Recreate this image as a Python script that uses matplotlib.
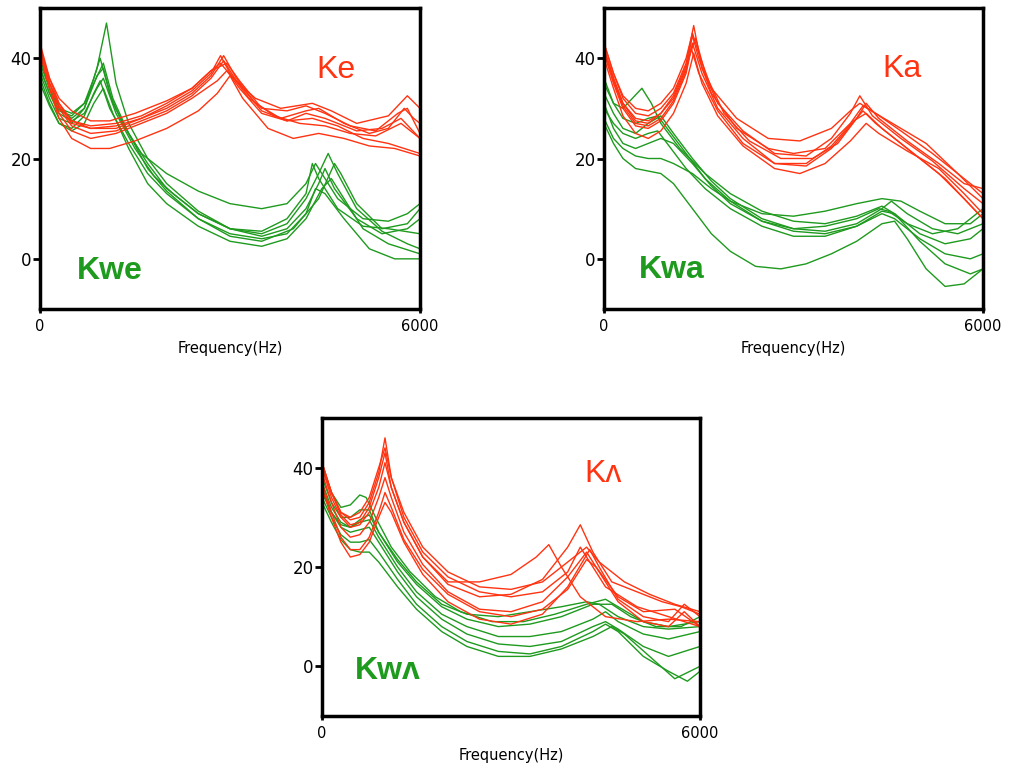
import matplotlib
matplotlib.use("Agg")
import matplotlib.pyplot as plt

# spectra: (frequency Hz, level dB) per token
KE = [
    [(0, 43), (150, 36), (300, 31), (500, 27.5), (800, 26), (1200, 26.5), (1600, 28), (2000, 30), (2400, 33), (2700, 36.5), (2900, 40.5), (3100, 36), (3400, 31), (3800, 28), (4200, 29.5), (4400, 30), (4800, 27), (5200, 25), (5500, 26), (5750, 30), (5900, 28), (6000, 27)],
    [(0, 41), (150, 34), (300, 28), (500, 24), (800, 22), (1100, 22), (1500, 23.5), (2000, 26), (2500, 29.5), (2800, 33), (3000, 36.5), (3200, 32), (3600, 26), (4000, 24), (4400, 25), (4800, 24), (5200, 22.5), (5600, 22), (6000, 20.5)],
    [(0, 42), (150, 35), (300, 30), (500, 26.5), (800, 25), (1200, 25.5), (1600, 27.5), (2000, 29.5), (2400, 32.5), (2700, 36), (2900, 39.5), (3100, 35.5), (3500, 29.5), (3900, 27.5), (4200, 29), (4500, 28), (5000, 25.5), (5400, 26), (5700, 28), (6000, 24)],
    [(0, 42), (150, 36), (300, 32), (500, 29.5), (800, 27.5), (1100, 27.5), (1500, 29), (2000, 31.5), (2400, 34), (2700, 37.5), (2850, 39), (3050, 36), (3400, 32), (3800, 30), (4300, 31), (4600, 29.5), (5000, 27), (5500, 28.5), (5800, 32.5), (6000, 30)],
    [(0, 41), (150, 34), (300, 29), (500, 25.5), (800, 24), (1200, 25), (1600, 27), (2000, 29), (2400, 32), (2800, 35.5), (2950, 37.5), (3150, 34), (3500, 29), (3900, 27.5), (4300, 28), (4700, 26.5), (5100, 24), (5500, 23), (6000, 21)],
    [(0, 42.5), (150, 35), (300, 30.5), (500, 27), (800, 26), (1200, 26), (1600, 28), (2000, 30.5), (2400, 33.5), (2700, 37), (2850, 40.5), (3000, 37), (3300, 32), (3700, 28.5), (4100, 27), (4500, 26.5), (4900, 25), (5300, 24.5), (5700, 27), (6000, 24)],
    [(0, 42), (150, 35), (300, 31), (500, 27.5), (800, 26.5), (1200, 27), (1600, 28.5), (2000, 31), (2400, 34), (2700, 37.5), (2950, 39), (3150, 35.5), (3500, 30), (3900, 29.5), (4200, 30.5), (4500, 29), (4900, 26.5), (5300, 25.5), (5650, 29), (5800, 30), (6000, 25)],
]
KWE = [
    [(0, 40), (150, 34), (300, 30), (500, 28), (700, 30), (900, 38), (1050, 47), (1200, 35), (1400, 27), (1700, 20), (2000, 15), (2500, 9.5), (3000, 6), (3500, 4.5), (3900, 6), (4200, 10), (4400, 15), (4500, 18), (4650, 14), (5000, 8), (5400, 5), (5800, 6), (6000, 8)],
    [(0, 38), (150, 33), (300, 29.5), (500, 28.5), (700, 31), (850, 36), (950, 40), (1100, 33), (1300, 27), (1600, 21), (2000, 17), (2500, 13.5), (3000, 11), (3500, 10), (3900, 11), (4200, 15), (4350, 19), (4450, 17), (4700, 12), (5100, 8), (5500, 7.5), (5800, 9), (6000, 11)],
    [(0, 37), (150, 32), (300, 28), (500, 27), (700, 30), (900, 36.5), (1000, 38), (1150, 31), (1400, 25), (1700, 19), (2000, 14), (2500, 9), (3000, 6), (3500, 5), (3900, 7), (4200, 12), (4400, 17), (4550, 21), (4700, 17), (5000, 10), (5400, 5.5), (5800, 3), (6000, 2)],
    [(0, 36), (150, 31), (300, 27), (500, 26), (700, 28.5), (850, 33), (950, 35.5), (1100, 30), (1400, 23), (1700, 17), (2000, 13), (2500, 8), (3000, 4.5), (3500, 3.5), (4000, 6), (4400, 12), (4650, 19), (4750, 17), (5000, 11), (5400, 6), (5800, 7), (6000, 10)],
    [(0, 39), (150, 34), (300, 30), (500, 29), (700, 31), (850, 35), (1000, 39), (1150, 32), (1400, 25), (1700, 18), (2000, 13.5), (2500, 8), (3000, 5), (3500, 4), (3900, 5), (4200, 9), (4350, 14), (4500, 13), (4800, 8), (5200, 2), (5600, 0), (6000, 0)],
    [(0, 35), (150, 30.5), (300, 27), (500, 25.5), (700, 27), (850, 31), (1000, 34), (1150, 29), (1400, 22), (1700, 15), (2000, 11), (2500, 6.5), (3000, 3.5), (3500, 2.5), (3900, 4), (4200, 8), (4450, 14), (4600, 16), (4750, 13), (5100, 6), (5500, 3), (6000, 1)],
    [(0, 38), (150, 33), (300, 29), (500, 27.5), (700, 29), (900, 34), (1000, 36), (1200, 29), (1500, 22), (1800, 16.5), (2100, 13), (2500, 9), (3000, 6), (3500, 5.5), (3900, 8), (4200, 13), (4300, 19), (4400, 16), (4700, 10), (5100, 6.5), (5500, 6), (6000, 5)],
]

KA = [
    [(0, 43), (150, 37), (300, 32), (500, 29), (700, 28.5), (900, 30), (1100, 33), (1300, 39), (1420, 46.5), (1550, 38), (1800, 31), (2200, 25.5), (2700, 21), (3200, 20.5), (3600, 24), (3900, 29), (4050, 32.5), (4250, 28.5), (4700, 24), (5200, 19.5), (5700, 14), (6000, 11)],
    [(0, 41), (150, 35), (300, 30), (500, 26.5), (700, 26), (900, 27.5), (1100, 31), (1300, 37), (1400, 43), (1550, 37), (1800, 30), (2200, 24), (2700, 19), (3200, 18.5), (3600, 22), (3900, 26.5), (4100, 29.5), (4300, 27), (4800, 22), (5300, 17), (5700, 12), (6000, 8)],
    [(0, 42), (150, 36), (300, 31), (500, 27.5), (700, 27), (900, 29), (1100, 32), (1300, 38), (1400, 44.5), (1500, 40), (1700, 33), (2100, 26), (2600, 22), (3000, 21), (3500, 22), (3900, 27), (4100, 30.5), (4300, 29), (4700, 26), (5100, 23), (5600, 17), (6000, 12)],
    [(0, 40), (150, 34), (300, 28.5), (500, 25), (700, 24), (900, 25.5), (1100, 29), (1300, 35), (1420, 41), (1550, 35), (1800, 28.5), (2200, 22.5), (2700, 18), (3100, 17), (3500, 19), (3900, 23.5), (4150, 27), (4350, 25), (4800, 21.5), (5300, 18), (5700, 13), (6000, 9)],
    [(0, 43), (150, 37), (300, 32.5), (500, 30), (700, 29.5), (900, 31), (1100, 34), (1300, 40), (1400, 45), (1500, 41), (1700, 34), (2100, 28), (2600, 24), (3100, 23.5), (3600, 26), (3900, 29.5), (4050, 31), (4300, 29), (4700, 25.5), (5200, 21), (5700, 16), (6000, 13)],
    [(0, 41.5), (150, 35.5), (300, 30.5), (500, 27), (700, 26.5), (900, 28), (1100, 31.5), (1300, 37.5), (1380, 42), (1500, 37), (1800, 29.5), (2200, 23), (2700, 19), (3200, 19), (3600, 22.5), (3950, 27.5), (4150, 29), (4400, 26), (4900, 21), (5400, 16), (6000, 8)],
    [(0, 42), (150, 36), (300, 31), (500, 28), (700, 27.5), (900, 29), (1100, 32.5), (1300, 38.5), (1450, 44), (1600, 37), (1900, 29), (2300, 23.5), (2800, 20), (3300, 20), (3700, 23), (4000, 28), (4150, 31), (4350, 28), (4800, 23.5), (5300, 19), (5700, 15), (6000, 14)],
]
KWA = [
    [(0, 35), (150, 31), (300, 30), (450, 32), (600, 34), (750, 31), (900, 27), (1200, 22), (1600, 17), (2000, 13), (2500, 9.5), (3000, 7.5), (3500, 7), (4000, 8.5), (4400, 10.5), (4600, 9), (5000, 5), (5400, 3), (5800, 4), (6000, 6)],
    [(0, 33), (150, 29), (300, 26), (500, 25), (700, 27), (900, 28.5), (1100, 25), (1400, 20), (1700, 15.5), (2000, 12), (2500, 8), (3000, 6), (3500, 5.5), (4000, 7), (4400, 10), (4550, 11.5), (4800, 9), (5200, 6), (5600, 5), (6000, 7)],
    [(0, 31), (150, 26), (300, 23), (500, 22), (700, 23), (900, 24), (1100, 23), (1400, 19), (1700, 14.5), (2000, 11), (2500, 7.5), (3000, 5.5), (3500, 5), (4000, 6.5), (4400, 9), (4600, 8), (5000, 4), (5400, 1), (5800, 0), (6000, 1)],
    [(0, 28), (150, 24), (300, 22), (500, 20.5), (700, 20), (900, 20), (1100, 19), (1400, 17), (1700, 14), (2000, 11.5), (2500, 9), (3000, 8.5), (3500, 9.5), (4000, 11), (4400, 12), (4700, 11.5), (5000, 9.5), (5400, 7), (5800, 7), (6000, 9)],
    [(0, 27), (150, 23), (300, 20), (500, 18), (700, 17.5), (900, 17), (1100, 15), (1400, 10), (1700, 5), (2000, 1.5), (2400, -1.5), (2800, -2), (3200, -1), (3600, 1), (4000, 3.5), (4400, 7), (4600, 7.5), (4800, 4), (5100, -2), (5400, -5.5), (5700, -5), (6000, -2)],
    [(0, 30), (150, 27), (300, 25), (500, 24), (700, 25), (850, 25.5), (1000, 23), (1300, 18), (1600, 14), (2000, 10), (2500, 6.5), (3000, 4.5), (3500, 4.5), (4000, 6.5), (4400, 9.5), (4600, 9), (5000, 3.5), (5400, -1), (5800, -3), (6000, -2)],
    [(0, 36), (150, 31), (300, 28), (500, 27), (700, 28), (850, 28.5), (1000, 26), (1300, 21), (1600, 16), (2000, 11.5), (2500, 7.5), (3000, 6), (3500, 6.5), (4000, 8), (4350, 10), (4500, 9.5), (4800, 7), (5200, 5), (5600, 6), (6000, 10)],
]

KV = [
    [(0, 41), (150, 35), (300, 31), (450, 29.5), (600, 30), (750, 33), (900, 39), (1000, 46), (1100, 38), (1300, 30), (1600, 23), (2000, 18), (2500, 15), (3000, 14), (3500, 15), (3900, 19), (4100, 24), (4200, 22), (4500, 16), (5000, 12), (5500, 10), (6000, 8)],
    [(0, 40), (150, 34), (300, 30), (450, 28), (600, 28.5), (750, 31), (900, 36), (1000, 41), (1100, 36), (1300, 29), (1600, 22), (2000, 17), (2500, 17), (3000, 18.5), (3400, 22), (3600, 24.5), (3800, 20), (4100, 14), (4500, 10), (5000, 9), (5500, 9.5), (6000, 9)],
    [(0, 41), (150, 35), (300, 30.5), (450, 28.5), (600, 29), (750, 32), (900, 38), (1000, 43), (1100, 36), (1300, 29), (1600, 22), (2000, 16.5), (2500, 14), (3000, 14.5), (3500, 17.5), (3900, 24), (4100, 28.5), (4300, 23), (4600, 17), (5000, 15), (5400, 13), (5700, 12), (6000, 10.5)],
    [(0, 39), (150, 33), (300, 28), (450, 26), (600, 26.5), (750, 29), (900, 34), (1000, 38), (1100, 34), (1300, 27), (1600, 20.5), (2000, 15), (2500, 11.5), (3000, 11), (3500, 13), (3900, 18), (4200, 23), (4350, 20), (4700, 14), (5100, 11), (5600, 11.5), (6000, 8)],
    [(0, 37), (150, 31), (300, 26), (450, 23.5), (600, 23.5), (750, 26), (900, 31), (1000, 35), (1100, 32), (1300, 25.5), (1600, 19.5), (2000, 14.5), (2500, 11), (3000, 10), (3500, 11.5), (3900, 15.5), (4200, 21.5), (4350, 20), (4700, 13), (5100, 9), (5500, 8), (5750, 11), (6000, 8)],
    [(0, 36), (150, 30), (300, 25), (450, 22), (600, 22.5), (750, 25), (900, 30), (1000, 33), (1100, 31), (1300, 25), (1600, 18.5), (2000, 13), (2500, 9.5), (3000, 8.5), (3500, 10.5), (3900, 16), (4250, 23.5), (4400, 20), (4700, 13.5), (5100, 10), (5500, 9), (5750, 12.5), (6000, 10)],
    [(0, 41), (150, 35), (300, 31), (450, 30), (600, 31), (750, 34), (900, 40), (1000, 44), (1100, 38), (1300, 31), (1600, 24), (2000, 19), (2500, 16), (3000, 15.5), (3500, 17), (3900, 21), (4200, 24), (4400, 21), (4800, 17), (5200, 14.5), (5600, 12.5), (6000, 11)],
]
KWV = [
    [(0, 40), (150, 35), (300, 32), (450, 32.5), (600, 34.5), (700, 34), (850, 30), (1100, 24), (1400, 19), (1800, 14), (2200, 11), (2700, 9), (3200, 9), (3700, 10.5), (4200, 12.5), (4500, 13.5), (4700, 12), (5100, 9), (5500, 8), (6000, 9)],
    [(0, 38), (150, 33), (300, 30), (450, 30), (600, 31.5), (750, 31.5), (900, 27), (1200, 21), (1500, 16.5), (1900, 12), (2300, 9.5), (2800, 8), (3300, 8.5), (3800, 10), (4300, 12.5), (4600, 12.5), (4900, 10), (5300, 8), (5700, 8), (6000, 10)],
    [(0, 37), (150, 32), (300, 29), (450, 28), (600, 29), (750, 29.5), (900, 26), (1200, 20), (1500, 15), (1900, 10.5), (2300, 8), (2800, 6), (3300, 6), (3800, 7), (4300, 9.5), (4500, 11), (4700, 9), (5100, 6.5), (5500, 5.5), (6000, 7)],
    [(0, 35), (150, 31), (300, 28), (450, 27), (600, 27.5), (750, 28), (900, 25), (1200, 19), (1500, 14), (1900, 9.5), (2300, 6.5), (2800, 4.5), (3300, 4), (3800, 5), (4300, 8), (4500, 9), (4700, 7.5), (5100, 4), (5500, 2), (6000, 4)],
    [(0, 34), (150, 30), (300, 26.5), (450, 25), (600, 25), (750, 25.5), (900, 23), (1200, 17.5), (1500, 12.5), (1900, 8), (2300, 5), (2800, 3), (3300, 2.5), (3800, 4), (4300, 7), (4500, 8.5), (4700, 7), (5100, 2), (5500, -1), (5800, -3), (6000, -1)],
    [(0, 33), (150, 29), (300, 25.5), (450, 23.5), (600, 23), (750, 23), (900, 21), (1200, 16), (1500, 11.5), (1900, 7), (2300, 4), (2800, 2), (3300, 2), (3800, 3.5), (4300, 6), (4600, 8), (4800, 6.5), (5200, 2), (5600, -2.5), (6000, 0)],
    [(0, 36), (150, 31), (300, 28.5), (450, 28), (600, 29.5), (750, 30.5), (900, 27), (1200, 21.5), (1500, 17), (1900, 12.5), (2300, 10.5), (2800, 10), (3300, 11), (3800, 12), (4200, 13), (4400, 12.5), (4700, 10), (5100, 8), (5500, 7.5), (6000, 8)],
]

RED = "#ff3311"
GREEN = "#1e9a1e"
LABEL_FONT = ["Liberation Sans", "DejaVu Sans"]

W, H = 1009, 768
fig = plt.figure(figsize=(W / 100, H / 100), dpi=100)


def px_axes(x0, y0, x1, y1):
    return fig.add_axes([x0 / W, 1 - y1 / H, (x1 - x0) / W, (y1 - y0) / H])


def panel(ax, red, green, red_name, green_name, red_pos, green_pos):
    for curve in green:
        f, db = zip(*curve)
        ax.plot(f, db, color=GREEN, lw=1.0)
    for curve in red:
        f, db = zip(*curve)
        ax.plot(f, db, color=RED, lw=1.0)
    ax.set_xlim(0, 6000)
    ax.set_ylim(-10, 50)
    ax.set_xticks([0, 6000])
    ax.set_yticks([0, 20, 40])
    ax.tick_params(axis="y", length=5, width=2, labelsize=12, pad=1)
    ax.tick_params(axis="x", length=3, width=2, labelsize=10.5, pad=4)
    for s in ax.spines.values():
        s.set_linewidth(2.5)
    ax.set_xlabel("Frequency(Hz)", fontsize=10.5, labelpad=5)
    ax.text(*red_pos, red_name, color=RED, fontsize=23, ha="center", va="center",
            transform=ax.transAxes, family=LABEL_FONT)
    ax.text(*green_pos, green_name, color=GREEN, fontsize=23, ha="center", va="center",
            fontweight="bold", transform=ax.transAxes, family=LABEL_FONT)


ax1 = px_axes(40, 8, 420, 309)
panel(ax1, KE, KWE, "Ke", "Kwe", (0.78, 0.794), (0.184, 0.126))

ax2 = px_axes(604, 8, 983, 309)
panel(ax2, KA, KWA, "Ka", "Kwa", (0.786, 0.797), (0.179, 0.13))

ax3 = px_axes(322, 418, 700, 716)
panel(ax3, KV, KWV, "K\u028c", "Kw\u028c", (0.743, 0.812), (0.175, 0.151))

fig.savefig("out.png", dpi=100)
